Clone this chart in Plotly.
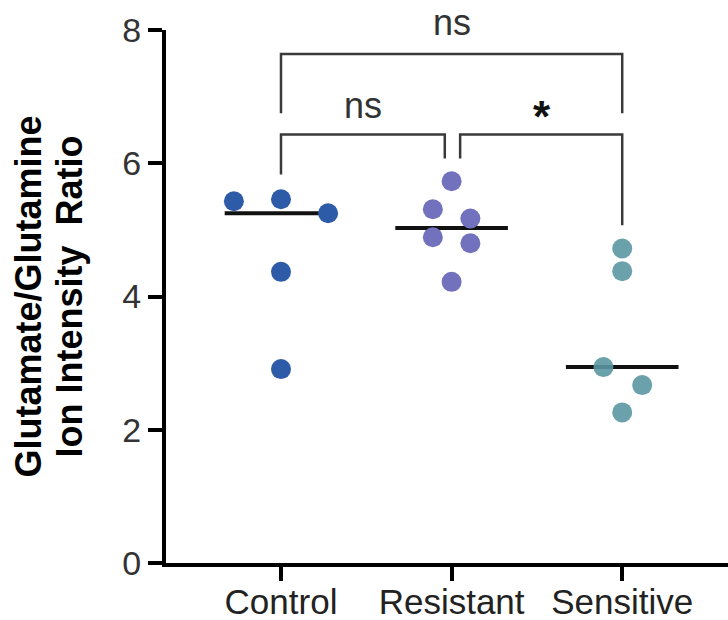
import numpy as np
import plotly.graph_objects as go

categories = ["Control", "Resistant", "Sensitive"]
control_values = [5.43, 5.46, 5.25, 4.37, 2.91]
resistant_values = [5.73, 5.31, 5.17, 4.89, 4.80, 4.22]
sensitive_values = [4.72, 4.38, 2.94, 2.67, 2.26]

# swarm layout offsets (category units)
control_jitter = [-0.276, 0.0, 0.276, 0.0, 0.0]
resistant_jitter = [0.0, -0.11, 0.11, -0.11, 0.11, 0.0]
sensitive_jitter = [0.0, 0.0, -0.11, 0.117, 0.0]

y_ticks = [0, 2, 4, 6, 8]
y_max = 8

# comparisons: (group a, group b, bar level, drop a, drop b, offset a, offset b, label, label x, label y)
comparisons = [
    (0, 2, 7.64, 6.75, 6.75, 0.0, 0.0, "ns", 1.0, 8.12),
    (0, 1, 6.43, 5.83, 6.07, 0.0, -0.04, "ns", 0.48, 6.86),
    (1, 2, 6.43, 6.07, 5.07, 0.05, 0.0, "*", 1.53, 6.70),
]

colors = ["#2E5BA8", "#7171BD", "#5B97A2"]
opac = [1.0, 1.0, 0.9]
groups = [control_values, resistant_values, sensitive_values]
jitters = [control_jitter, resistant_jitter, sensitive_jitter]

fig = go.Figure()

# median lines
for i, vals in enumerate(groups):
    m = float(np.median(vals))
    fig.add_trace(go.Scatter(x=[i - 0.33, i + 0.33], y=[m, m], mode="lines",
                             line=dict(color="#111111", width=4),
                             hoverinfo="skip", showlegend=False))

for i, vals in enumerate(groups):
    xs = [i + j for j in jitters[i]]
    fig.add_trace(go.Scatter(x=xs, y=vals, mode="markers", name=categories[i],
                             marker=dict(size=20, color=colors[i], opacity=opac[i],
                                         line=dict(width=0)),
                             showlegend=False, cliponaxis=False))

shapes = []
annotations = []
bcol = "#3a3a3a"
for a, b, lvl, da, db, oa, ob, lab, lx, ly in comparisons:
    xa, xb = a + oa, b + ob
    path = f"M {xa},{da} L {xa},{lvl} L {xb},{lvl} L {xb},{db}"
    shapes.append(dict(type="path", path=path, xref="x", yref="y",
                       line=dict(color=bcol, width=2.5)))
    if lab == "*":
        font = dict(family="Liberation Sans, Arial", size=44, color="#111111")
        text = "<b>*</b>"
    else:
        font = dict(family="Liberation Sans Narrow, Arial Narrow, Liberation Sans", size=36, color="#333333")
        text = lab
    annotations.append(dict(x=lx, y=ly / y_max, xref="x", yref="y domain", text=text,
                            showarrow=False, font=font, xanchor="center", yanchor="middle"))

title_font = dict(family="Liberation Sans, Arial", size=36, color="#000000")
annotations.append(dict(x=0, y=0.5, xref="paper", yref="paper", xshift=-138,
                        text="<b>Glutamate/Glutamine</b>", textangle=-90, showarrow=False,
                        font=title_font, xanchor="center", yanchor="middle"))
annotations.append(dict(x=0, y=0.5, xref="paper", yref="paper", xshift=-97,
                        text="<b>Ion Intensity\u00a0 Ratio</b>", textangle=-90, showarrow=False,
                        font=title_font, xanchor="center", yanchor="middle"))

fig.update_layout(
    width=728, height=620,
    margin=dict(l=166, r=0, t=30, b=57, autoexpand=False),
    plot_bgcolor="white", paper_bgcolor="white",
    shapes=shapes, annotations=annotations,
    xaxis=dict(range=[-0.674, 2.62], tickvals=[0, 1, 2], ticktext=categories,
               showline=True, linecolor="#000000", linewidth=4, automargin=False,
               ticks="outside", ticklen=14, tickwidth=4, tickcolor="#000000",
               ticklabelstandoff=-9,
               showgrid=False, zeroline=False,
               tickfont=dict(family="Liberation Sans, Arial", size=35, color="#222222")),
    yaxis=dict(range=[0, y_max], tickvals=y_ticks, automargin=False,
               showline=True, linecolor="#000000", linewidth=4,
               ticks="outside", ticklen=14, tickwidth=4, tickcolor="#000000",
               showgrid=False, zeroline=False,
               tickfont=dict(family="Liberation Sans, Arial", size=34, color="#333333")),
)

fig.write_html("out.html")
